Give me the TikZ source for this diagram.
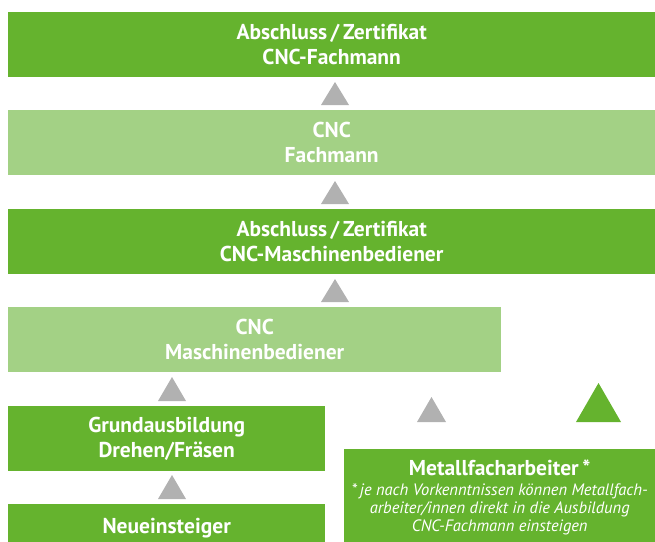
\documentclass[tikz,border=0pt]{standalone}
\usepackage{fontspec}
\setmainfont{PT Sans}
\usetikzlibrary{calc}
\definecolor{dgreen}{HTML}{65B32E}
\definecolor{lgreen}{HTML}{A3D185}
\definecolor{tgray}{HTML}{B1B1B1}
\newcommand\uptri[4]{\fill[#4] ($(#1)+(-#2/2,0)$) -- ($(#1)+(#2/2,0)$) -- ($(#1)+(0,-#3)$) -- cycle;}
\begin{document}
\begin{tikzpicture}[x=1pt,y=-1pt,
  box/.style={fill=#1, draw=none, text=white, align=center, inner sep=0pt, anchor=north west,
    font=\bfseries\fontsize{21.5}{24.5}\selectfont},
  note/.style={font=\itshape\fontsize{16.5}{18}\selectfont}]
\useasboundingbox (0,0) rectangle (655,541);
\clip (0,0) rectangle (655,541);
\node[box=dgreen, minimum width=647, minimum height=65] (b1) at (8,12) {Abschluss\,/\,Zertifikat\\CNC-Fachmann};
\node[box=lgreen, minimum width=647, minimum height=65] (b2) at (8,110) {CNC\\Fachmann};
\node[box=dgreen, minimum width=647, minimum height=65] (b3) at (8,209) {Abschluss\,/\,Zertifikat\\CNC-Maschinenbediener};
\node[box=lgreen, minimum width=493, minimum height=65] (b4) at (8,307) {CNC\\Maschinenbediener};
\node[box=dgreen, minimum width=317, minimum height=65] (b5) at (8,406) {Grundausbildung\\Drehen/Fräsen};
\node[box=dgreen, minimum width=317, minimum height=47] (b6) at (8,504) {Neueinsteiger};
\node[box=dgreen, minimum width=311, minimum height=96, note] (b7) at (344,449)
  {{\bfseries\upshape\fontsize{21.5}{18}\selectfont Metallfacharbeiter\,*}\\[2pt]
   *\,je nach Vorkenntnissen können Metallfach-\\
   arbeiter/innen direkt in die Ausbildung\\
   CNC-Fachmann einsteigen};
\coordinate (t1) at (335,105);
\coordinate (t2) at (335,204);
\coordinate (t3) at (335,302);
\coordinate (t4) at (172,401);
\coordinate (t5) at (172,499);
\coordinate (t6) at (431.5,422);
\coordinate (t7) at (598.5,422);
\uptri{t1}{28}{23}{tgray}
\uptri{t2}{28}{23}{tgray}
\uptri{t3}{28}{23}{tgray}
\uptri{t4}{28}{24}{tgray}
\uptri{t5}{28}{24}{tgray}
\uptri{t6}{29}{25}{tgray}
\uptri{t7}{45}{39}{dgreen}
\end{tikzpicture}
\end{document}
